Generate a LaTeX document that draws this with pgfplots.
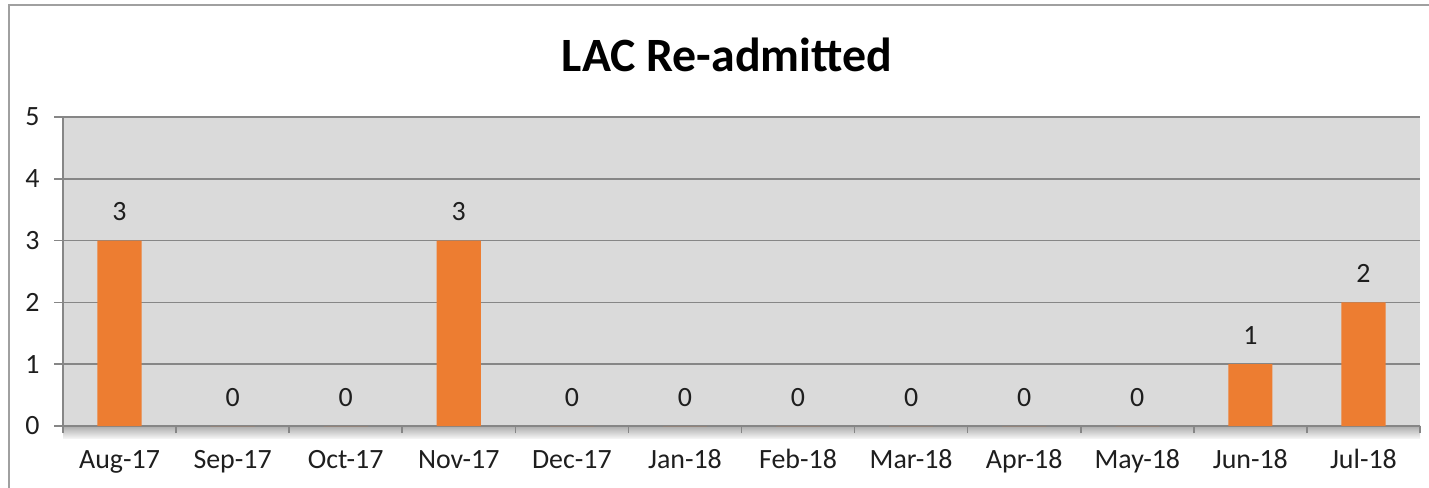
\documentclass[border=0pt]{standalone}
\usepackage{fontspec}
\setmainfont{Carlito}
\usepackage{pgfplots}
\pgfplotsset{compat=1.18}
\definecolor{barorange}{RGB}{237,125,49}
\definecolor{plotbg}{RGB}{218,218,218}
\definecolor{gridc}{RGB}{134,134,134}
\definecolor{framec}{RGB}{160,160,160}
\definecolor{txt}{RGB}{30,30,30}
\begin{document}
\begin{tikzpicture}
\path[use as bounding box] (0,0) rectangle (714.5bp,244bp);
\draw[framec, line width=1bp] (4.5bp,-1bp) -- (4.5bp,241.5bp) -- (716bp,241.5bp);
% floor strip
\shade[top color=gray!65, bottom color=gray!5] (31.5bp,31bp) rectangle (710bp,24.5bp);
\node[font=\fontsize{24}{27}\selectfont\bfseries, anchor=base, inner sep=0pt] at (363.5bp,208bp) {LAC Re-admitted};
\begin{axis}[
  at={(31.5bp,31bp)}, anchor=south west,
  scale only axis, width=678.5bp, height=154.5bp,
  xmin=0, xmax=12, ymin=0, ymax=5,
  axis background/.style={fill=plotbg},
  axis x line*=bottom, axis y line*=left,
  axis line style={gridc, line width=0.8bp},
  tick align=outside,
  major tick length=4.5bp,
  minor tick length=3.5bp,
  xtick={0.5,1.5,...,11.5},
  xticklabels={Aug-17,Sep-17,Oct-17,Nov-17,Dec-17,Jan-18,Feb-18,Mar-18,Apr-18,May-18,Jun-18,Jul-18},
  minor xtick={0,1,...,12},
  xtick style={draw=none},
  minor x tick style={draw=gridc, line width=0.8bp},
  ytick={0,1,...,5},
  y tick style={draw=gridc, line width=0.8bp},
  ymajorgrids, grid style={gridc, line width=0.8bp},
  /pgf/number format/assume math mode=true,
  ticklabel style={font=\fontsize{14}{16}\selectfont, text=txt},
  xticklabel style={anchor=base, inner sep=0pt, yshift=-16.5bp},
  yticklabel style={inner sep=0pt, xshift=-7bp},
  ybar, bar width=0.39,
  nodes near coords,
  every node near coord/.append style={font=\fontsize{14}{16}\selectfont, text=txt, anchor=base, inner sep=0pt, yshift=10bp},
  clip=false,
]
\addplot[fill=barorange, draw=none] coordinates {
(0.5,3) (1.5,0) (2.5,0) (3.5,3) (4.5,0) (5.5,0) (6.5,0) (7.5,0) (8.5,0) (9.5,0) (10.5,1) (11.5,2)};
\end{axis}
\end{tikzpicture}
\end{document}
